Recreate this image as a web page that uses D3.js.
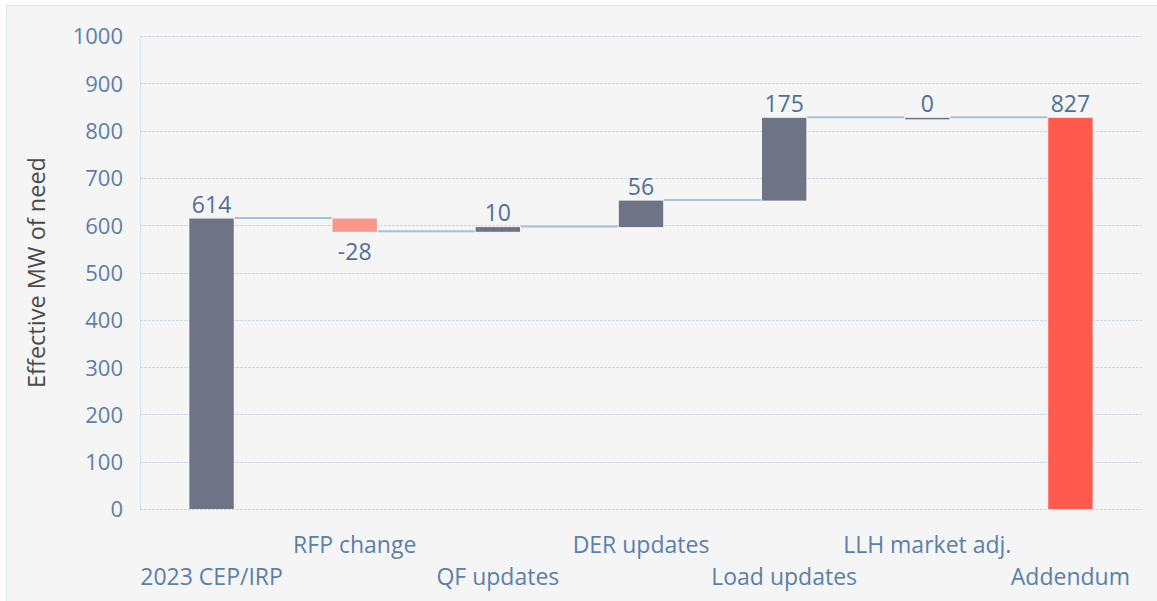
<!DOCTYPE html>
<html>
<head>
<meta charset="utf-8">
<script src="https://cdn.jsdelivr.net/npm/d3@7"></script>
<style>
  html, body { margin: 0; padding: 0; background: #ffffff; }
  svg { display: block; font-family: "Open Sans", sans-serif; }
</style>
</head>
<body>
<svg id="chart" width="1157" height="601"></svg>
<script>
// waterfall steps
var categories = ['2023 CEP/IRP', 'RFP change', 'QF updates', 'DER updates', 'Load updates', 'LLH market adj.', 'Addendum'];
var deltas = [614, -28, 10, 56, 175, 0, 827];
var kinds = ['total', 'step', 'step', 'step', 'step', 'step', 'total'];
var yTicks = [0, 100, 200, 300, 400, 500, 600, 700, 800, 900, 1000];

var svg = d3.select('#chart');
var W = 1157, H = 601;
var margin = {left: 140, right: 15, top: 36, bottom: 92};

svg.append('rect')
    .attr('x', 6.5).attr('y', 5.5)
    .attr('width', W).attr('height', H)
    .attr('fill', '#f5f5f5')
    .attr('stroke', '#dde5ef');

var x = d3.scaleBand()
    .domain(categories)
    .range([margin.left, W - margin.right])
    .paddingInner(0.69)
    .paddingOuter(0.345);

var y = d3.scaleLinear()
    .domain([0, 1000])
    .range([H - margin.bottom, margin.top]);

// build running totals
var bars = [];
var run = 0;
categories.forEach(function (c, i) {
    var d = deltas[i];
    var b;
    if (kinds[i] === 'total') {
        b = {cat: c, v: d, lo: 0, hi: d, end: d};
        run = d;
    } else {
        var start = run;
        run = run + d;
        b = {cat: c, v: d, lo: Math.min(start, run), hi: Math.max(start, run), end: run};
    }
    b.kind = kinds[i];
    bars.push(b);
});

// grid
var grid = svg.append('g');
grid.selectAll('line')
    .data(yTicks)
    .enter().append('line')
    .attr('x1', margin.left).attr('x2', W - margin.right)
    .attr('y1', function (d) { return Math.round(y(d)) + 0.5; })
    .attr('y2', function (d) { return Math.round(y(d)) + 0.5; })
    .attr('stroke', '#cdd9e8')
    .attr('stroke-dasharray', '3,1');
grid.append('line')
    .attr('x1', margin.left + 0.5).attr('x2', margin.left + 0.5)
    .attr('y1', y(1000)).attr('y2', y(0))
    .attr('stroke', '#d6e0ec');

// y axis
var yAxis = svg.append('g')
    .attr('transform', 'translate(' + (margin.left - 17) + ',0)')
    .call(d3.axisLeft(y).tickValues(yTicks).tickFormat(d3.format('d')).tickSize(0).tickPadding(0));
yAxis.select('.domain').remove();
yAxis.selectAll('text')
    .attr('font-size', 22)
    .attr('dy', '0.36em')
    .attr('fill', '#5b7fab')
    .attr('font-family', '"Open Sans", sans-serif');

svg.append('text')
    .attr('transform', 'translate(45,' + ((y(0) + y(1000)) / 2) + ') rotate(-90)')
    .attr('text-anchor', 'middle')
    .attr('font-size', 23.5)
    .attr('fill', '#4a4a4a')
    .text('Effective MW of need');

// x labels, staggered
svg.selectAll('.xlab')
    .data(categories)
    .enter().append('text')
    .attr('class', 'xlab')
    .attr('x', function (d) { return x(d) + x.bandwidth() / 2; })
    .attr('y', function (d, i) { return i % 2 ? 553 : 585; })
    .attr('text-anchor', 'middle')
    .attr('font-size', 23)
    .attr('fill', '#5b7fab')
    .text(function (d) { return d; });

// connectors
var conn = svg.append('g');
for (var i = 0; i < bars.length - 1; i++) {
    var lvl = bars[i].end;
    conn.append('line')
        .attr('x1', x(bars[i].cat) + x.bandwidth() + 1)
        .attr('x2', x(bars[i + 1].cat) - 1)
        .attr('y1', y(lvl) - 0.5)
        .attr('y2', y(lvl) - 0.5)
        .attr('stroke', '#a7bfda')
        .attr('stroke-width', 2);
}

function barColor(b) {
    if (b.kind === 'total') return b.cat === 'Addendum' ? '#ff5a4e' : '#6e7386';
    return b.v < 0 ? '#f7988a' : '#6e7386';
}

svg.selectAll('.bar')
    .data(bars)
    .enter().append('rect')
    .attr('class', 'bar')
    .attr('x', function (d) { return x(d.cat); })
    .attr('width', x.bandwidth())
    .attr('y', function (d) { return y(d.hi); })
    .attr('height', function (d) { return Math.max(1.5, y(d.lo) - y(d.hi)); })
    .attr('fill', barColor);

// value labels
svg.selectAll('.val')
    .data(bars)
    .enter().append('text')
    .attr('class', 'val')
    .attr('x', function (d) { return x(d.cat) + x.bandwidth() / 2; })
    .attr('y', function (d) { return d.v < 0 ? y(d.lo) + 28 : y(d.hi) - 6; })
    .attr('text-anchor', 'middle')
    .attr('font-size', 23)
    .attr('fill', '#4f6f99')
    .text(function (d) { return d.v; });
</script>
</body>
</html>
